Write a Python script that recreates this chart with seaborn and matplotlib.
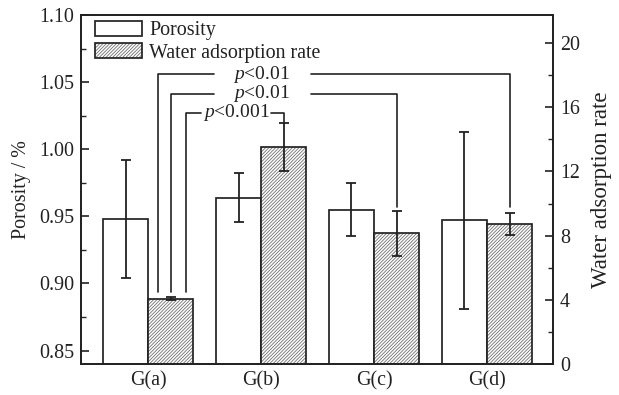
import numpy as np
import pandas as pd
import matplotlib
matplotlib.use("Agg")
import matplotlib.pyplot as plt
import seaborn as sns
from matplotlib.ticker import MultipleLocator, FormatStrFormatter
from matplotlib.colors import to_rgba

# ---- data ----
categories = ['G(a)', 'G(b)', 'G(c)', 'G(d)']
series = ['Porosity', 'Water adsorption rate']
porosity = [0.948, 0.964, 0.955, 0.947]
porosity_err = [0.044, 0.018, 0.020, 0.066]
water = [4.06, 13.5, 8.15, 8.7]
water_err = [0.1, 1.5, 1.4, 0.68]
sig_labels = [r'$p$<0.01', r'$p$<0.01', r'$p$<0.001']

sns.set_theme(style='ticks')
plt.rcParams['font.family'] = ['Liberation Serif', 'DejaVu Serif']
plt.rcParams['mathtext.fontset'] = 'custom'
plt.rcParams['mathtext.rm'] = 'Liberation Serif'
plt.rcParams['mathtext.it'] = 'Liberation Serif:italic'
plt.rcParams['hatch.linewidth'] = 0.6
plt.rcParams['hatch.color'] = '#707070'

FS = 14.4
HATCH_C = '#707070'
EDGE = '#222222'

df_p = pd.DataFrame({'cat': categories, 'series': series[0], 'value': porosity})
df_w = pd.DataFrame({'cat': categories, 'series': series[1], 'value': water})

fig = plt.figure(figsize=(6.19, 3.95), dpi=100)
ax = fig.add_axes([81/619, 1-364/395, (553-81)/619, (364-15)/395])
ax2 = ax.twinx()

sns.barplot(data=df_p, x='cat', y='value', hue='series', hue_order=series,
            order=categories, palette=['white', 'white'], saturation=1,
            edgecolor=EDGE, linewidth=1.25, errorbar=None, legend=False,
            width=0.8, dodge=True, ax=ax)
sns.barplot(data=df_w, x='cat', y='value', hue='series', hue_order=series,
            order=categories, palette=['white', 'white'], saturation=1,
            edgecolor=EDGE, linewidth=1.25, errorbar=None, legend=False,
            width=0.8, dodge=True, ax=ax2)

p_bars = [c for c in ax.containers if len(c) > 0][0]
w_bars = [c for c in ax2.containers if len(c) > 0][0]
for p in w_bars.patches:
    p.set_hatch('//////////')
    if hasattr(p, 'set_hatchcolor'):
        p.set_hatchcolor(HATCH_C)
    p._hatch_color = to_rgba(HATCH_C)

xp = [p.get_x() + p.get_width()/2 for p in p_bars.patches]
xw = [p.get_x() + p.get_width()/2 for p in w_bars.patches]

ax.errorbar(xp, porosity, yerr=porosity_err, fmt='none', ecolor=EDGE,
            elinewidth=1.3, capsize=3.5, capthick=1.3, zorder=5)
ax2.errorbar(xw, water, yerr=water_err, fmt='none', ecolor=EDGE,
             elinewidth=1.3, capsize=3.5, capthick=1.3, zorder=5)

ax.set_xlim(-0.595, 3.585)
ax.set_ylim(0.84, 1.10)
ax2.set_ylim(0, 21.75)

ax.yaxis.set_major_locator(MultipleLocator(0.05))
ax.yaxis.set_minor_locator(MultipleLocator(0.025))
ax.yaxis.set_major_formatter(FormatStrFormatter('%.2f'))
ax2.yaxis.set_major_locator(MultipleLocator(4))
ax2.yaxis.set_minor_locator(MultipleLocator(2))

ax.tick_params(axis='y', which='major', direction='in', length=6, width=1.2,
               labelsize=FS, pad=5, colors='#222222')
ax.tick_params(axis='y', which='minor', direction='in', length=3.5, width=1.0)
ax2.tick_params(axis='y', which='major', direction='in', length=6, width=1.2,
                labelsize=FS, pad=5, colors='#222222')
ax2.tick_params(axis='y', which='minor', direction='in', length=3.5, width=1.0)
ax.tick_params(axis='x', length=0, labelsize=FS, pad=5, colors='#222222')

for a in (ax, ax2):
    for s in a.spines.values():
        s.set_linewidth(1.3)
        s.set_color('#222222')

ax.set_xlabel('')
ax2.set_xlabel('')
ax.set_ylabel('Porosity / %', fontsize=FS, labelpad=6, color='#222222')
ax2.set_ylabel('Water adsorption rate', fontsize=16.5, labelpad=8, color='#222222')

# ---- significance brackets (right-axis units) ----
lk = dict(color=EDGE, lw=1.2, clip_on=False, zorder=6)
tk = dict(ha='center', va='center', fontsize=14, color='#222222')
a_c = xw[0]
y1, y2, y3 = 18.05, 16.85, 15.65
# top bracket G(a) -> G(d)
ax2.plot([a_c - 0.11, a_c - 0.11, 0.585], [4.5, y1, y1], **lk)
ax2.plot([1.445, xw[3], xw[3]], [y1, y1, 9.8], **lk)
ax2.text(1.0, y1, sig_labels[0], **tk)
# middle bracket G(a) -> G(c)
ax2.plot([a_c, a_c, 0.585], [4.5, y2, y2], **lk)
ax2.plot([1.445, xw[2], xw[2]], [y2, y2, 9.8], **lk)
ax2.text(1.0, y2, sig_labels[1], **tk)
# lower bracket G(a) -> G(b)
ax2.plot([a_c + 0.135, a_c + 0.135, 0.47], [4.5, y3, y3], **lk)
ax2.plot([1.09, xw[1], xw[1]], [y3, y3, water[1] + water_err[1]], **lk)
ax2.text(0.78, y3, sig_labels[2], **tk)

leg = ax2.legend([p_bars, w_bars], series, loc='upper left',
                 bbox_to_anchor=(0.03, 0.983), frameon=False, fontsize=FS,
                 borderpad=0, borderaxespad=0, handlelength=2.35, handleheight=0.75,
                 handletextpad=0.35, labelspacing=0.15)
for t in leg.get_texts():
    t.set_color('#222222')

fig.savefig('out.png', dpi=100)
